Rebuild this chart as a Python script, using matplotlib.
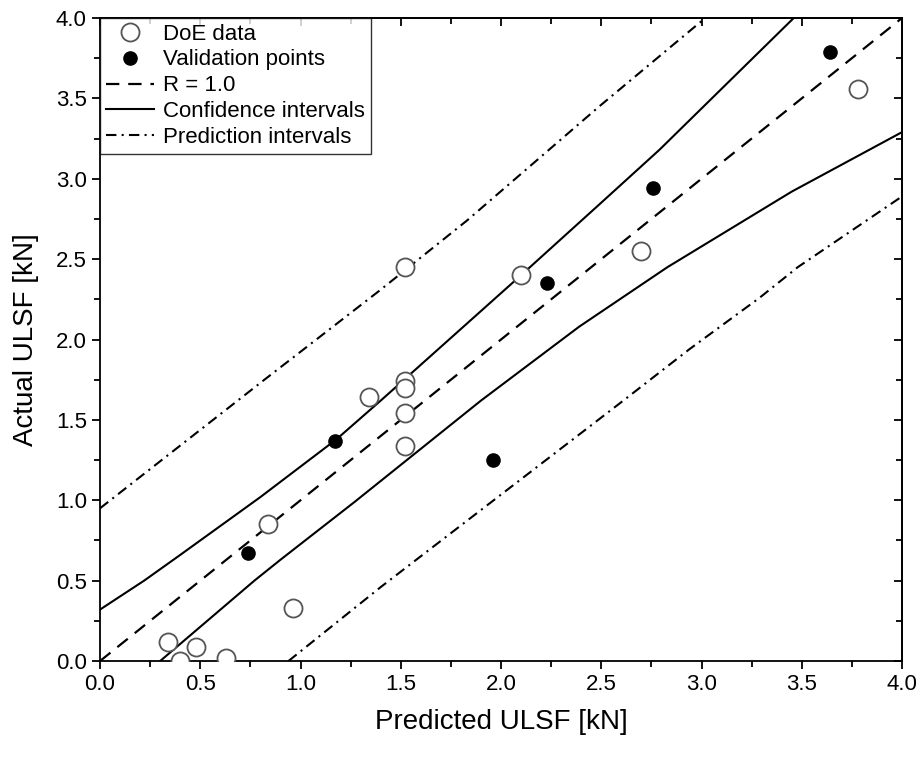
import matplotlib
matplotlib.use("Agg")
import matplotlib.pyplot as plt
from matplotlib.ticker import MultipleLocator, NullFormatter

plt.rcParams['font.family'] = ['Liberation Sans', 'DejaVu Sans']

# DoE data (open circles)
doe_x = [0.34, 0.40, 0.48, 0.63, 0.96, 0.84, 1.34, 1.52, 1.52, 1.52, 1.52, 1.52, 2.10, 2.70, 3.78]
doe_y = [0.12, 0.00, 0.09, 0.02, 0.33, 0.85, 1.64, 2.45, 1.74, 1.70, 1.54, 1.34, 2.40, 2.55, 3.56]

# validation points (filled)
val_x = [0.74, 1.17, 1.96, 2.23, 2.76, 3.64]
val_y = [0.67, 1.37, 1.25, 2.35, 2.94, 3.79]

# R = 1.0 reference line
ref_x = [0.0, 4.0]
ref_y = [0.0, 4.0]

# confidence intervals
ci_up_x = [0.0, 0.22, 0.40, 0.80, 1.18, 1.40, 2.10, 2.49, 2.79, 3.46]
ci_up_y = [0.32, 0.50, 0.66, 1.02, 1.38, 1.62, 2.40, 2.84, 3.18, 4.00]
ci_lo_x = [0.30, 0.77, 0.90, 1.27, 1.40, 1.52, 1.90, 2.39, 2.83, 3.45, 4.00]
ci_lo_y = [0.00, 0.50, 0.63, 0.99, 1.12, 1.24, 1.62, 2.08, 2.45, 2.92, 3.29]

# prediction intervals
pi_up_x = [0.0, 0.82, 1.40, 1.83, 2.49, 2.99, 3.02]
pi_up_y = [0.95, 1.75, 2.31, 2.74, 3.45, 3.97, 4.00]
pi_lo_x = [0.94, 1.40, 2.61, 2.94, 3.29, 3.48, 4.00]
pi_lo_y = [0.00, 0.46, 1.62, 1.94, 2.26, 2.45, 2.89]

fig = plt.figure(figsize=(9.21, 7.59), dpi=100)
ax = fig.add_axes([0.1086, 0.1291, 0.8708, 0.8472])

ax.plot(doe_x, doe_y, 'o', ms=13, mfc='white', mec='#555555', mew=1.3,
        label='DoE data', zorder=4)
ax.plot(val_x, val_y, 'o', ms=9.5, color='black', label='Validation points', zorder=5)
ax.plot(ref_x, ref_y, color='black', lw=1.6, dashes=(6, 4), label='R = 1.0')
ax.plot(ci_up_x, ci_up_y, color='black', lw=1.5, label='Confidence intervals')
ax.plot(ci_lo_x, ci_lo_y, color='black', lw=1.5)
ax.plot(pi_up_x, pi_up_y, color='black', lw=1.5, dashes=(5, 2.5, 1, 2.5),
        label='Prediction intervals')
ax.plot(pi_lo_x, pi_lo_y, color='black', lw=1.5, dashes=(5, 2.5, 1, 2.5))

ax.set_xlim(0, 4)
ax.set_ylim(0, 4)
for a in (ax.xaxis, ax.yaxis):
    a.set_major_locator(MultipleLocator(0.5))
    a.set_minor_locator(MultipleLocator(0.25))
ax.tick_params(which='both', direction='out', width=1.3, labelsize=16, colors='black')
ax.tick_params(which='major', length=6)
ax.tick_params(which='minor', length=4)

top = ax.secondary_xaxis('top')
right = ax.secondary_yaxis('right')
for sec in (top, right):
    sec.tick_params(which='both', direction='in', width=1.3)
    sec.tick_params(which='major', length=6)
    sec.tick_params(which='minor', length=4)
top.xaxis.set_major_locator(MultipleLocator(0.5))
top.xaxis.set_minor_locator(MultipleLocator(0.25))
top.xaxis.set_major_formatter(NullFormatter())
right.yaxis.set_major_locator(MultipleLocator(0.5))
right.yaxis.set_minor_locator(MultipleLocator(0.25))
right.yaxis.set_major_formatter(NullFormatter())

for s in ax.spines.values():
    s.set_linewidth(1.3)
for sec in (top, right):
    for s in sec.spines.values():
        s.set_linewidth(1.3)

ax.set_xlabel('Predicted ULSF [kN]', fontsize=20, labelpad=10)
ax.set_ylabel('Actual ULSF [kN]', fontsize=20, labelpad=12)

leg = ax.legend(loc='upper left', bbox_to_anchor=(0, 1), borderaxespad=0,
                fontsize=16, frameon=True, fancybox=False, edgecolor='black',
                handlelength=2.2, handletextpad=0.4, labelspacing=0.22,
                borderpad=0.25)
leg.get_frame().set_linewidth(1.0)

fig.savefig('out.png', dpi=100)
